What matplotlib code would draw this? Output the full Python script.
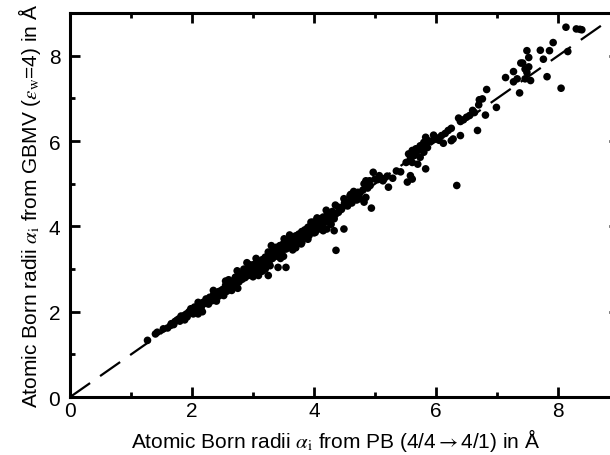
import matplotlib
matplotlib.use("Agg")
import matplotlib.pyplot as plt
from matplotlib.ticker import MultipleLocator

plt.rcParams['font.family'] = ['Liberation Sans', 'DejaVu Sans']
plt.rcParams['mathtext.fontset'] = 'stix'

# Born radii: PB (x) vs GBMV (y), in Angstrom
pb = [8.13, 8.30, 8.39, 8.36, 8.16, 8.05, 7.92, 7.86, 7.71, 7.76, 7.82, 7.49, 7.52, 7.39, 7.42,
      7.52, 7.46, 7.27, 7.14, 7.33, 7.46, 7.55, 7.37, 7.27, 7.49,
      6.83, 6.76, 6.71, 6.99, 6.81, 6.68, 6.63, 6.55, 6.50, 6.40, 6.37, 6.25, 6.40, 6.28, 6.25,
      6.09, 6.12, 5.96, 5.99, 5.86, 5.83, 5.80, 5.74, 5.67, 5.61, 5.55, 5.64, 5.74, 5.86, 5.80,
      5.58, 5.51, 5.61, 5.70, 5.83, 5.61, 5.53, 5.58, 5.42, 6.34,
      5.29, 5.22, 5.13, 5.07, 4.97, 5.00, 4.91, 4.82, 4.85, 4.92, 4.94, 4.85, 4.82, 4.72, 4.65,
      4.59, 4.65, 4.75, 4.49, 4.56, 4.46, 4.40, 4.49, 4.36, 4.33, 4.27, 4.24, 4.21, 4.33, 4.14,
      4.08, 4.05, 3.98, 3.95, 3.89, 4.02, 3.92, 3.82, 3.76, 3.70, 3.79, 3.66, 3.57, 3.51, 3.54,
      3.44, 3.38, 3.54, 3.35, 3.28, 3.25, 3.19, 3.12, 3.25, 3.28, 3.41, 3.09, 3.06, 3.00, 2.93,
      2.87, 2.80, 2.74, 2.71, 2.68, 2.61, 2.65, 2.55, 2.49, 2.42, 2.52, 2.36, 2.29, 2.23, 2.20,
      2.17, 2.10, 2.04, 1.98, 2.04, 1.91, 1.85, 1.88, 1.78, 1.72, 1.66, 1.53, 1.43, 1.40, 1.27,
      1.60, 1.65, 1.70, 1.75, 1.80, 1.82, 1.88, 1.92, 1.95, 2.00, 2.02, 2.06, 2.08, 2.12, 2.15,
      2.18, 2.22, 2.25, 2.27, 2.30, 2.33, 2.35, 2.38, 2.40, 2.43, 2.45, 2.47, 2.50, 2.52, 2.55,
      2.57, 2.60, 2.62, 2.65, 2.67, 2.70, 2.72, 2.75, 2.77, 2.80, 2.82, 2.85, 2.87, 2.90, 2.92,
      2.95, 2.97, 3.00, 3.02, 3.05, 3.07, 3.10, 3.12, 3.15, 3.17, 3.20, 3.22, 3.25, 3.27, 3.30,
      3.32, 3.35, 3.37, 3.40, 3.42, 3.45, 3.47, 3.50, 3.52, 3.55, 3.57, 3.60, 3.62, 3.65, 3.67,
      3.70, 3.72, 3.75, 3.77, 3.80, 3.82, 3.85, 3.87, 3.90, 3.92, 3.95, 3.97, 4.00, 4.02, 4.05,
      4.07, 4.10, 4.12, 4.15, 4.18, 4.22, 4.25, 4.30, 4.35, 4.40, 4.45, 4.50, 4.55, 4.60, 4.62,
      4.68, 4.70, 4.75, 4.80, 4.88, 5.05, 5.15, 5.20, 5.35, 5.65, 5.70, 5.75, 5.85, 5.90, 6.00,
      6.05, 6.15, 6.20, 6.45, 6.60, 6.70,
      2.75, 3.00, 3.20, 3.50, 3.70, 3.90, 4.15, 4.00, 2.40, 2.10,
      2.60, 2.90, 3.30, 3.60, 4.05, 4.35, 4.60,
      2.85, 3.05, 3.15, 3.35, 3.45, 3.65, 3.80, 3.95, 4.10, 4.20, 4.28, 2.55, 2.35, 2.65, 2.95]
gbmv = [8.67, 8.63, 8.61, 8.62, 8.10, 7.24, 8.31, 8.12, 8.13, 7.92, 7.51, 8.12, 7.96, 7.83, 7.83,
        7.74, 7.69, 7.63, 7.49, 7.46, 7.46, 7.42, 7.13, 7.39, 7.61,
        7.21, 6.99, 6.97, 6.79, 6.61, 6.25, 6.67, 6.60, 6.56, 6.46, 6.54, 6.30, 6.13, 6.05, 6.01,
        6.13, 5.95, 6.14, 6.05, 6.01, 6.09, 5.97, 5.89, 5.82, 5.78, 5.70, 5.66, 5.62, 5.85, 5.74,
        5.59, 5.50, 5.50, 5.46, 5.35, 5.11, 5.04, 5.19, 5.28, 4.96,
        5.13, 4.92, 5.07, 5.19, 5.27, 5.11, 5.07, 5.00, 5.07, 4.96, 4.43, 4.68, 4.57, 4.80, 4.82,
        4.72, 4.65, 4.65, 4.65, 4.53, 4.45, 4.33, 3.94, 3.44, 4.18, 4.25, 4.10, 3.94, 3.90, 4.02,
        3.94, 4.18, 4.10, 4.02, 3.94, 3.86, 3.79, 3.86, 3.75, 3.75, 3.59, 3.51, 3.59, 3.71, 3.47,
        3.55, 3.51, 3.04, 3.40, 3.28, 3.40, 3.20, 3.08, 2.85, 3.08, 3.04, 2.85, 2.96, 3.08, 3.01,
        2.89, 2.85, 2.96, 2.81, 2.69, 2.73, 2.58, 2.62, 2.50, 2.46, 2.38, 2.42, 2.34, 2.30, 2.19,
        2.00, 2.22, 2.11, 2.07, 1.99, 1.95, 1.87, 1.81, 1.83, 1.77, 1.72, 1.60, 1.52, 1.48, 1.33,
        1.62, 1.68, 1.70, 1.80, 1.78, 1.90, 1.92, 1.88, 2.00, 2.03, 1.95, 2.08, 2.02, 2.14, 2.10,
        2.22, 2.20, 2.28, 2.18, 2.32, 2.26, 2.38, 2.33, 2.42, 2.36, 2.48, 2.40, 2.52, 2.45, 2.58,
        2.48, 2.62, 2.55, 2.70, 2.60, 2.75, 2.65, 2.80, 2.70, 2.88, 2.76, 2.92, 2.80, 2.98, 2.85,
        3.02, 2.90, 3.10, 2.95, 3.14, 3.00, 3.18, 3.05, 3.22, 3.10, 3.28, 3.15, 3.32, 3.20, 3.38,
        3.25, 3.45, 3.30, 3.50, 3.38, 3.55, 3.42, 3.60, 3.48, 3.65, 3.50, 3.70, 3.55, 3.72, 3.60,
        3.78, 3.65, 3.82, 3.70, 3.88, 3.75, 3.92, 3.80, 3.98, 3.85, 4.02, 3.90, 4.08, 3.95, 4.12,
        4.00, 4.18, 4.05, 4.22, 4.12, 4.28, 4.15, 4.35, 4.28, 4.45, 4.40, 4.55, 4.48, 4.62, 4.55,
        4.70, 4.62, 4.78, 4.85, 4.90, 5.10, 5.12, 5.18, 5.30, 5.72, 5.80, 5.85, 5.95, 6.00, 6.08,
        6.02, 6.18, 6.25, 6.50, 6.72, 6.85,
        2.55, 2.82, 3.00, 3.30, 3.50, 3.70, 3.90, 3.85, 2.25, 1.95,
        2.75, 3.15, 3.55, 3.80, 4.20, 4.50, 4.75,
        3.00, 3.25, 2.95, 3.50, 3.25, 3.45, 3.62, 4.10, 4.02, 4.38, 4.05, 2.72, 2.50, 2.50, 3.10]

diag = [0, 9]

fig = plt.figure(figsize=(6.1, 4.56), dpi=100)
ax = fig.add_axes([0.1148, 0.127, 0.9, 0.842])

ax.plot(diag, diag, color='black', lw=1.6, dashes=(11, 5.5), zorder=1)
ax.scatter(pb, gbmv, s=30, color='black', edgecolors='none', zorder=2)

ax.set_xlim(0, 9)
ax.set_ylim(0, 9)
ax.xaxis.set_major_locator(MultipleLocator(2))
ax.xaxis.set_minor_locator(MultipleLocator(1))
ax.yaxis.set_major_locator(MultipleLocator(2))
ax.yaxis.set_minor_locator(MultipleLocator(1))
ax.tick_params(which='both', direction='in', top=True, right=True, width=2, labelsize=15)
ax.tick_params(which='major', length=7)
ax.tick_params(which='minor', length=3.5)
ax.tick_params(axis='x', which='major', pad=3)
ax.tick_params(axis='y', which='major', pad=7)
for sp in ax.spines.values():
    sp.set_linewidth(2.2)

ax.set_xlabel(r"Atomic Born radii $\alpha_{\rm i}$ from PB (4/4$\rightarrow$4/1) in Å", fontsize=15, labelpad=5)
ax.set_ylabel(r"Atomic Born radii $\alpha_{\rm i}$ from GBMV ($\varepsilon_{\rm w}$=4) in Å", fontsize=15, labelpad=4)
ax.xaxis.set_label_coords(0.484, -0.075)

fig.savefig("out.png", dpi=100)
